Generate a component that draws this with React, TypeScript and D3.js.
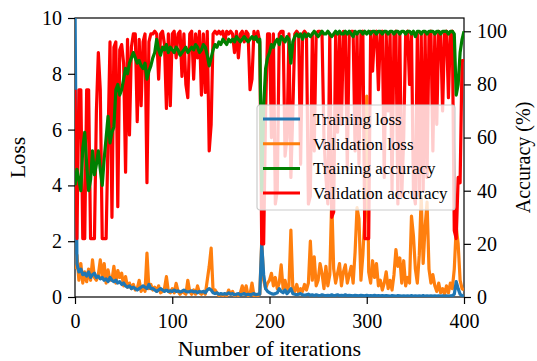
import React, { useEffect, useRef } from 'react';
import * as d3 from 'd3';

// one reading every 2 iterations, from iteration 0 to 400
const STEP = 2;

const trainLoss = [
  10.5, 1.2, 0.9, 1.0, 0.8, 0.85, 0.75, 0.9, 0.7, 0.8,
  0.85, 0.7, 0.75, 0.65, 0.7, 0.6, 0.65, 0.55, 0.7, 0.6,
  0.55, 0.6, 0.5, 0.55, 0.45, 0.5, 0.4, 0.35, 0.4, 0.3,
  0.35, 0.3, 0.25, 0.3, 0.35, 0.4, 0.35, 0.3, 0.45, 0.3,
  0.3, 0.25, 0.2, 0.25, 0.3, 0.25, 0.2, 0.25, 0.2, 0.22,
  0.2, 0.25, 0.2, 0.22, 0.18, 0.2, 0.25, 0.2, 0.18, 0.2,
  0.22, 0.18, 0.2, 0.15, 0.2, 0.18, 0.2, 0.15, 0.25, 0.3,
  0.25, 0.15, 0.12, 0.15, 0.1, 0.12, 0.1, 0.12, 0.1, 0.15,
  0.1, 0.12, 0.08, 0.1, 0.12, 0.08, 0.1, 0.12, 0.08, 0.1,
  0.08, 0.1, 0.12, 0.08, 0.1, 0.1, 1.9, 0.8, 0.3, 0.2,
  0.15, 0.12, 0.1, 0.12, 0.15, 0.3, 0.2, 0.15, 0.25, 0.12,
  0.2, 0.3, 0.12, 0.1, 0.08, 0.1, 0.12, 0.08, 0.06, 0.08,
  0.1, 0.06, 0.08, 0.05, 0.08, 0.06, 0.05, 0.08, 0.06, 0.05,
  0.06, 0.05, 0.08, 0.05, 0.06, 0.08, 0.05, 0.06, 0.05, 0.08,
  0.05, 0.06, 0.05, 0.04, 0.06, 0.05, 0.04, 0.06, 0.05, 0.04,
  0.06, 0.04, 0.05, 0.04, 0.06, 0.04, 0.05, 0.04, 0.05, 0.04,
  0.05, 0.04, 0.03, 0.05, 0.04, 0.03, 0.05, 0.04, 0.03, 0.04,
  0.03, 0.04, 0.03, 0.05, 0.03, 0.04, 0.03, 0.04, 0.03, 0.05,
  0.03, 0.04, 0.03, 0.04, 0.03, 0.04, 0.03, 0.04, 0.03, 0.04,
  0.03, 0.04, 0.03, 0.04, 0.05, 0.1, 0.55, 0.3, 0.1, 0.05,
  0.03,
];

const valLoss = [
  1.0, 1.5, 0.6, 1.2, 0.5, 0.9, 0.55, 1.0, 0.6, 1.33,
  0.7, 0.6, 0.8, 1.33, 0.7, 1.2, 0.5, 0.97, 0.6, 0.6,
  1.1, 0.5, 0.95, 0.7, 0.85, 0.4, 0.73, 0.35, 0.5, 0.3,
  0.45, 0.25, 0.3, 0.6, 0.2, 0.35, 0.2, 1.57, 0.3, 0.45,
  0.25, 0.35, 0.2, 0.4, 0.15, 0.2, 0.3, 0.73, 0.2, 0.15,
  0.3, 0.15, 0.49, 0.2, 0.1, 0.2, 0.15, 0.1, 0.6, 0.2,
  0.1, 0.25, 0.1, 0.4, 0.15, 0.1, 0.2, 0.1, 0.6, 1.1,
  1.75, 0.2, 0.25, 0.15, 0.05, 0.1, 0.05, 0.1, 0.05, 0.25,
  0.1, 0.2, 0.05, 0.1, 0.05, 0.15, 0.4, 0.1, 0.4, 0.05,
  0.1, 0.5, 0.05, 0.1, 0.05, 0.1, 2.0, 0.6, 0.3, 0.5,
  0.6, 0.85, 0.4, 0.7, 0.3, 0.5, 1.15, 0.3, 0.6, 0.25,
  0.4, 2.4, 0.3, 0.2, 0.45, 0.15, 0.3, 0.2, 0.45, 0.25,
  0.5, 2.0, 0.6, 1.44, 0.4, 0.6, 1.2, 0.85, 0.3, 1.1,
  0.4, 0.8, 3.5, 1.0, 0.5, 0.85, 1.2, 0.4, 0.9, 1.15,
  0.5, 0.8, 1.1, 0.5, 1.6, 3.2, 2.8, 0.6, 1.5, 2.9,
  7.2, 0.9, 0.5, 1.3, 0.7, 1.2, 0.4, 0.6, 0.25, 0.5,
  0.9, 0.3, 0.6, 0.25, 0.8, 1.7, 1.1, 1.4, 0.5, 1.3,
  0.4, 0.7, 0.5, 2.9, 2.2, 1.0, 0.5, 1.5, 3.6, 1.2,
  2.5, 3.4, 1.0, 0.5, 0.8, 0.4, 0.2, 0.5, 0.15, 0.3,
  0.1, 0.4, 0.15, 0.5, 0.3, 1.0, 2.5, 1.9, 0.6, 0.3,
  0.25,
];

const trainAcc = [
  42, 48, 44, 40, 56, 62, 50, 40, 44, 55,
  46, 50, 55, 48, 42, 52, 60, 68, 58, 62,
  64, 78, 80, 76, 78, 82, 86, 84, 88, 90,
  92, 90, 88, 89, 87, 86, 88, 82, 85, 87,
  90, 92, 97, 93, 91, 94, 93, 95, 92, 94,
  93, 92, 94, 93, 91, 92, 93, 94, 92, 93,
  94, 93, 95, 94, 92, 93, 95, 94, 91, 87,
  90, 93, 95, 94, 96, 95, 97, 96, 95, 97,
  96, 97, 96, 98, 97, 96, 97, 98, 97, 96,
  97, 98, 97, 98, 96, 97, 40, 72, 86, 90,
  92, 95, 94, 96, 97, 95, 98, 97, 96, 98,
  97, 88, 96, 98, 99, 98, 99, 97, 99, 98,
  99, 98, 99, 100, 99, 98, 99, 100, 99, 99,
  100, 99, 98, 99, 100, 99, 100, 99, 99, 100,
  99, 100, 99, 98, 100, 99, 100, 100, 99, 100,
  99, 100, 99, 100, 100, 99, 100, 100, 99, 100,
  100, 99, 100, 100, 99, 100, 100, 99, 100, 100,
  99, 100, 100, 99, 100, 98, 100, 100, 99, 100,
  100, 99, 100, 100, 100, 99, 100, 100, 99, 100,
  100, 100, 99, 100, 100, 99, 76, 80, 92, 97,
  100,
];

const valAcc = [
  78, 22, 78, 78, 22, 22, 78, 78, 22, 22,
  22, 70, 92, 78, 22, 22, 22, 60, 96, 30,
  94, 96, 34, 93, 95, 88, 47, 97, 61, 94,
  99, 99, 66, 97, 72, 96, 99, 43, 96, 99,
  99, 100, 99, 82, 99, 100, 95, 71, 99, 72,
  99, 100, 90, 99, 100, 83, 99, 80, 75, 99,
  100, 82, 99, 90, 100, 76, 99, 77, 100, 55,
  65, 99, 100, 99, 100, 99, 100, 96, 100, 99,
  100, 99, 92, 100, 90, 99, 100, 96, 100, 99,
  78, 82, 100, 97, 100, 96, 20, 20, 70, 99,
  99, 60, 99, 35, 40, 99, 100, 100, 53, 60,
  99, 45, 70, 99, 100, 99, 50, 99, 100, 99,
  35, 38, 99, 55, 99, 100, 100, 99, 60, 45,
  35, 99, 30, 32, 99, 62, 99, 65, 100, 99,
  48, 99, 100, 100, 55, 99, 50, 99, 100, 22,
  22, 22, 100, 85, 99, 100, 78, 99, 100, 45,
  99, 70, 99, 40, 99, 100, 35, 99, 38, 60,
  99, 100, 80, 99, 40, 35, 99, 38, 99, 40,
  99, 45, 99, 100, 55, 99, 65, 100, 99, 70,
  99, 100, 75, 99, 100, 25, 22, 45, 43, 89,
  89,
];

const xTicks = [0, 100, 200, 300, 400];
const lossTicks = [0, 2, 4, 6, 8, 10];
const accTicks = [0, 20, 40, 60, 80, 100];

const BLUE = '#1f77b4';
const ORANGE = '#ff7f0e';
const GREEN = '#008000';
const RED = '#ff0000';

const legendItems = [
  { name: 'Training loss', color: BLUE },
  { name: 'Validation loss', color: ORANGE },
  { name: 'Training accuracy', color: GREEN },
  { name: 'Validation accuracy', color: RED },
];

const FONT = '"Liberation Serif", "Times New Roman", Times, serif';
const WIDTH = 537;
const HEIGHT = 361;

const App: React.FC = () => {
  const svgRef = useRef<SVGSVGElement>(null);

  useEffect(() => {
    if (!svgRef.current) return;
    const svg = d3.select(svgRef.current);
    svg.selectAll('*').remove();

    const margin = { top: 18, right: 73, bottom: 64, left: 75 };
    const innerWidth = WIDTH - margin.left - margin.right;
    const innerHeight = HEIGHT - margin.top - margin.bottom;

    const g = svg
      .append('g')
      .attr('transform', `translate(${margin.left},${margin.top})`);

    // Scales (loss on the left, accuracy on the twin right axis)
    const xScale = d3.scaleLinear().domain([0, 400]).range([0, innerWidth]);
    const lossScale = d3.scaleLinear().domain([0, 10]).range([innerHeight, 0]);
    const accScale = d3.scaleLinear().domain([0, 105]).range([innerHeight, 0]);

    svg
      .append('defs')
      .append('clipPath')
      .attr('id', 'plotClip')
      .append('rect')
      .attr('x', margin.left)
      .attr('y', margin.top)
      .attr('width', innerWidth)
      .attr('height', innerHeight);

    const plot = svg.append('g').attr('clip-path', 'url(#plotClip)')
      .append('g')
      .attr('transform', `translate(${margin.left},${margin.top})`);

    const drawLine = (values: number[], scale: d3.ScaleLinear<number, number>, color: string) => {
      const line = d3
        .line<number>()
        .x((_, i) => xScale(i * STEP))
        .y(d => scale(d));
      plot
        .append('path')
        .datum(values)
        .attr('fill', 'none')
        .attr('stroke', color)
        .attr('stroke-width', 3.2)
        .attr('stroke-linejoin', 'round')
        .attr('d', line);
    };

    // loss lines first, accuracy (twin axis) on top
    drawLine(valLoss, lossScale, ORANGE);
    drawLine(trainLoss, lossScale, BLUE);
    drawLine(valAcc, accScale, RED);
    drawLine(trainAcc, accScale, GREEN);

    const styleAxis = (axis: d3.Selection<SVGGElement, unknown, null, undefined>) => {
      axis.select('.domain').remove();
      axis.selectAll('line').attr('stroke', '#000').attr('stroke-width', 1.2);
      axis
        .selectAll('text')
        .attr('fill', '#000')
        .style('font-family', FONT)
        .style('font-size', '20px');
    };

    // X Axis
    const xAxis = g
      .append('g')
      .attr('transform', `translate(0,${innerHeight})`)
      .call(d3.axisBottom(xScale).tickValues(xTicks).tickSize(7).tickSizeOuter(0).tickPadding(10));
    styleAxis(xAxis);

    // Left axis
    const yLeft = g
      .append('g')
      .call(d3.axisLeft(lossScale).tickValues(lossTicks).tickSize(7).tickSizeOuter(0).tickPadding(6));
    styleAxis(yLeft);

    // Right axis
    const yRight = g
      .append('g')
      .attr('transform', `translate(${innerWidth},0)`)
      .call(d3.axisRight(accScale).tickValues(accTicks).tickSize(7).tickSizeOuter(0).tickPadding(6));
    styleAxis(yRight);

    // Frame
    g.append('rect')
      .attr('width', innerWidth)
      .attr('height', innerHeight)
      .attr('fill', 'none')
      .attr('stroke', '#000')
      .attr('stroke-width', 1.2);

    // Axis labels
    g.append('text')
      .attr('x', innerWidth / 2)
      .attr('y', innerHeight + 59)
      .attr('text-anchor', 'middle')
      .style('font-family', FONT)
      .style('font-size', '22px')
      .text('Number of iterations');

    svg
      .append('text')
      .attr('transform', `translate(25,${margin.top + innerHeight / 2}) rotate(-90)`)
      .attr('text-anchor', 'middle')
      .style('font-family', FONT)
      .style('font-size', '22px')
      .text('Loss');

    svg
      .append('text')
      .attr('transform', `translate(530,${margin.top + innerHeight / 2}) rotate(-90)`)
      .attr('text-anchor', 'middle')
      .style('font-family', FONT)
      .style('font-size', '20px')
      .text('Accuracy (%)');

    // Legend
    const legend = svg.append('g').attr('transform', 'translate(257,105)');
    legend
      .append('rect')
      .attr('width', 198)
      .attr('height', 105)
      .attr('rx', 3)
      .attr('fill', '#fff')
      .attr('fill-opacity', 0.8)
      .attr('stroke', '#cccccc')
      .attr('stroke-width', 1.2);

    legendItems.forEach((item, i) => {
      const y = 14 + i * 24.7;
      legend
        .append('line')
        .attr('x1', 6)
        .attr('x2', 43)
        .attr('y1', y)
        .attr('y2', y)
        .attr('stroke', item.color)
        .attr('stroke-width', 3);
      legend
        .append('text')
        .attr('x', 56)
        .attr('y', y)
        .attr('dy', '0.35em')
        .style('font-family', FONT)
        .style('font-size', '17px')
        .text(item.name);
    });
  }, []);

  return (
    <svg
      ref={svgRef}
      width={WIDTH}
      height={HEIGHT}
      style={{ position: 'absolute', left: 0, top: 0, background: '#fff' }}
    />
  );
};

export default App;
